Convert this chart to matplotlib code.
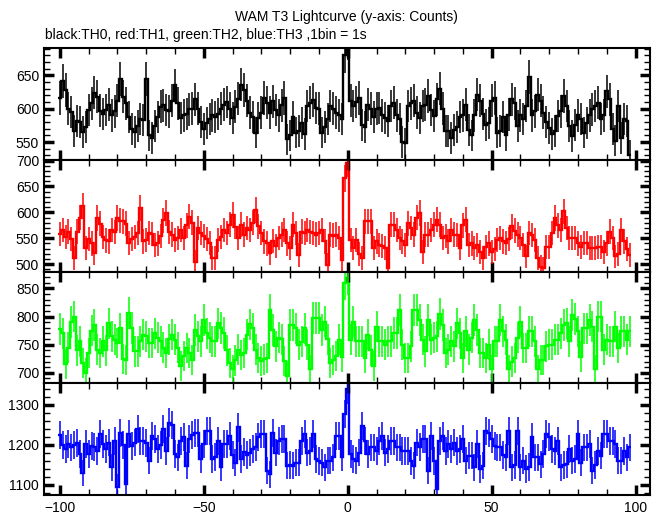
import numpy as np
import matplotlib
matplotlib.use('Agg')
import matplotlib.pyplot as plt
from matplotlib.ticker import MultipleLocator, FixedLocator

plt.rcParams['font.family'] = ['Liberation Sans', 'DejaVu Sans']

# 1 s bins, centred on -100 ... 98
time = np.arange(-100, 99)

th0 = [616, 641, 628, 600, 595, 567, 582, 580, 565, 572,
       598, 608, 624, 618, 597, 592, 598, 606, 590, 596,
       612, 645, 618, 608, 588, 570, 565, 574, 584, 583,
       645, 560, 556, 574, 588, 603, 605, 598, 596, 612,
       635, 608, 586, 590, 592, 599, 600, 614, 600, 580,
       570, 578, 585, 590, 588, 592, 600, 606, 610, 600,
       586, 603, 615, 636, 628, 612, 594, 588, 564, 586,
       594, 616, 609, 594, 611, 598, 590, 605, 616, 554,
       560, 588, 564, 566, 578, 562, 604, 609, 613, 601,
       600, 564, 572, 584, 604, 600, 594, 590, 584, 680,
       700, 612, 604, 610, 616, 576, 572, 606, 600, 588,
       600, 601, 590, 586, 582, 604, 609, 590, 584, 550,
       548, 604, 608, 612, 594, 586, 604, 606, 619, 598,
       589, 614, 630, 600, 566, 566, 556, 568, 572, 588,
       590, 606, 568, 560, 590, 621, 612, 592, 576, 578,
       612, 616, 564, 566, 588, 560, 591, 614, 608, 574,
       590, 584, 604, 648, 590, 596, 621, 612, 594, 580,
       571, 562, 566, 589, 596, 619, 604, 574, 559, 576,
       590, 584, 564, 578, 590, 599, 604, 609, 584, 590,
       626, 614, 570, 552, 604, 556, 584, 582, 530]

th1 = [558, 566, 552, 563, 548, 512, 563, 590, 612, 531,
       548, 540, 521, 589, 578, 552, 546, 544, 566, 562,
       589, 584, 583, 578, 541, 548, 552, 560, 608, 544,
       547, 560, 558, 537, 540, 554, 585, 599, 562, 557,
       547, 550, 566, 550, 575, 592, 580, 505, 570, 560,
       554, 548, 541, 512, 512, 547, 552, 566, 560, 576,
       595, 572, 550, 576, 557, 570, 566, 580, 605, 573,
       560, 544, 540, 521, 545, 535, 550, 557, 566, 540,
       531, 576, 560, 518, 563, 560, 566, 562, 560, 557,
       560, 566, 544, 499, 557, 555, 557, 550, 508, 666,
       695, 547, 531, 547, 520, 512, 583, 583, 583, 531,
       544, 537, 535, 531, 492, 576, 576, 566, 550, 544,
       537, 579, 570, 557, 590, 599, 524, 557, 557, 566,
       576, 586, 576, 550, 554, 544, 566, 557, 556, 531,
       575, 586, 537, 540, 531, 537, 524, 512, 534, 540,
       524, 530, 547, 550, 544, 541, 548, 573, 565, 557,
       550, 537, 515, 560, 556, 547, 512, 495, 492, 534,
       534, 560, 589, 575, 566, 602, 570, 550, 550, 550,
       540, 534, 541, 541, 531, 531, 531, 534, 534, 524,
       540, 563, 550, 515, 520, 566, 544, 530, 518]

th2 = [778, 770, 715, 745, 790, 800, 740, 756, 718, 700,
       735, 775, 785, 741, 735, 756, 740, 788, 765, 759,
       753, 779, 725, 723, 806, 780, 738, 738, 756, 768,
       765, 753, 753, 770, 762, 756, 745, 735, 760, 768,
       759, 745, 712, 730, 744, 735, 723, 776, 765, 756,
       794, 770, 762, 756, 756, 788, 780, 771, 740, 718,
       706, 722, 741, 732, 735, 768, 786, 779, 741, 726,
       721, 724, 726, 812, 776, 747, 762, 760, 721, 694,
       785, 785, 779, 750, 755, 779, 750, 706, 797, 797,
       797, 776, 791, 760, 718, 723, 730, 759, 729, 859,
       868, 759, 791, 756, 756, 756, 726, 768, 740, 712,
       782, 756, 756, 750, 756, 756, 771, 771, 812, 750,
       726, 726, 747, 812, 812, 794, 759, 738, 794, 759,
       762, 765, 805, 785, 735, 741, 756, 747, 788, 770,
       726, 774, 741, 762, 794, 776, 735, 735, 726, 750,
       706, 756, 756, 794, 774, 759, 706, 720, 726, 762,
       791, 744, 744, 774, 774, 756, 706, 723, 723, 747,
       750, 750, 759, 759, 770, 785, 788, 756, 803, 795,
       774, 729, 779, 779, 794, 782, 706, 800, 800, 741,
       759, 756, 756, 782, 744, 774, 774, 759, 774]

th3 = [1225, 1200, 1190, 1202, 1194, 1200, 1205, 1177, 1130, 1202,
       1177, 1198, 1195, 1185, 1227, 1202, 1190, 1206, 1144, 1210,
       1094, 1231, 1200, 1102, 1227, 1198, 1206, 1239, 1210, 1210,
       1205, 1161, 1223, 1215, 1190, 1200, 1239, 1185, 1256, 1250,
       1177, 1169, 1210, 1219, 1148, 1215, 1225, 1231, 1231, 1165,
       1202, 1235, 1235, 1165, 1170, 1210, 1144, 1202, 1202, 1223,
       1175, 1156, 1244, 1165, 1183, 1175, 1181, 1190, 1195, 1219,
       1227, 1227, 1136, 1127, 1231, 1181, 1210, 1215, 1215, 1148,
       1150, 1148, 1156, 1156, 1210, 1227, 1181, 1185, 1227, 1165,
       1160, 1156, 1144, 1161, 1161, 1169, 1223, 1223, 1169, 1277,
       1339, 1177, 1165, 1161, 1181, 1248, 1210, 1177, 1194, 1194,
       1185, 1210, 1223, 1181, 1190, 1210, 1210, 1194, 1194, 1185,
       1185, 1185, 1160, 1148, 1206, 1195, 1215, 1215, 1136, 1223,
       1160, 1090, 1210, 1223, 1185, 1202, 1190, 1206, 1185, 1190,
       1215, 1161, 1173, 1173, 1144, 1202, 1140, 1148, 1235, 1230,
       1215, 1198, 1194, 1194, 1175, 1169, 1235, 1144, 1150, 1235,
       1144, 1161, 1140, 1145, 1219, 1169, 1169, 1152, 1177, 1227,
       1220, 1190, 1185, 1210, 1144, 1150, 1152, 1190, 1161, 1165,
       1227, 1156, 1194, 1194, 1202, 1136, 1150, 1185, 1173, 1227,
       1227, 1210, 1210, 1202, 1161, 1161, 1185, 1169, 1194]

series = [th0, th1, th2, th3]
colors = ['black', '#ff0000', '#00ff00', '#0000ff']
ylims = [(523, 691), (486, 701), (682, 880), (1075, 1355)]
yticks = [[550, 600, 650], [500, 550, 600, 650, 700], [700, 750, 800, 850], [1100, 1200, 1300]]
yminor = [10, 10, 10, 20]
xticks = [-100, -50, 0, 50, 100]

# panel boxes in pixels (top, bottom) of a 662x515 figure
W, H = 662, 515
boxes = [(48, 160), (160, 271.5), (271.5, 383), (383, 495)]
left, right = 44, 650

fig = plt.figure(figsize=(W / 100, H / 100), dpi=100)
edges = np.append(time - 0.5, time[-1] + 0.5)

for k, (vals, col) in enumerate(zip(series, colors)):
    top, bot = boxes[k]
    ax = fig.add_axes([left / W, 1 - bot / H, (right - left) / W, (bot - top) / H])
    v = np.array(vals, dtype=float)
    ax.stairs(v, edges, color=col, lw=1.7, baseline=None)
    ax.errorbar(time, v, yerr=np.sqrt(v), fmt='none', ecolor=col, elinewidth=1.1)
    ax.set_xlim(-105.5, 105)
    ax.set_ylim(*ylims[k])
    ax.xaxis.set_major_locator(FixedLocator(xticks))
    ax.xaxis.set_minor_locator(MultipleLocator(10))
    ax.yaxis.set_major_locator(FixedLocator(yticks[k]))
    ax.yaxis.set_minor_locator(MultipleLocator(yminor[k]))
    ax.tick_params(which='both', direction='in', top=True, right=True, labelsize=10)
    ax.tick_params(which='major', length=7, width=2.5)
    ax.tick_params(which='minor', length=4, width=1)
    ax.tick_params(axis='x', labelbottom=(k == 3), pad=4)
    for s in ax.spines.values():
        s.set_linewidth(1.5)

fig.text(346 / W, 1 - 17 / H, 'WAM T3 Lightcurve (y-axis: Counts)', ha='center', va='center', fontsize=10)
fig.text(45 / W, 1 - 35 / H, 'black:TH0, red:TH1, green:TH2, blue:TH3 ,1bin = 1s', ha='left', va='center', fontsize=10)

fig.savefig('out.png', dpi=100)
